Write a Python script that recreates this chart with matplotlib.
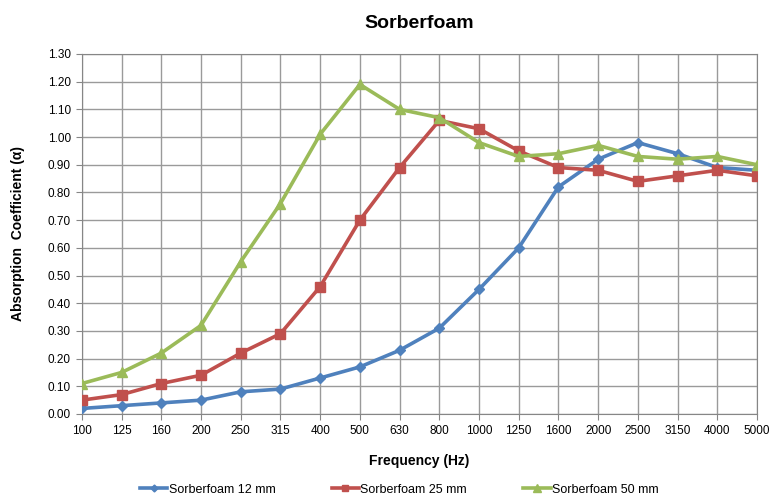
import matplotlib
matplotlib.use("Agg")
import matplotlib.pyplot as plt
import numpy as np

plt.rcParams["font.family"] = ["Liberation Sans", "DejaVu Sans"]

freqs = ["100", "125", "160", "200", "250", "315", "400", "500", "630", "800",
         "1000", "1250", "1600", "2000", "2500", "3150", "4000", "5000"]
foam_12 = [0.02, 0.03, 0.04, 0.05, 0.08, 0.09, 0.13, 0.17, 0.23, 0.31,
           0.45, 0.60, 0.82, 0.92, 0.98, 0.94, 0.89, 0.88]
foam_25 = [0.05, 0.07, 0.11, 0.14, 0.22, 0.29, 0.46, 0.70, 0.89, 1.06,
           1.03, 0.95, 0.89, 0.88, 0.84, 0.86, 0.88, 0.86]
foam_50 = [0.11, 0.15, 0.22, 0.32, 0.55, 0.76, 1.01, 1.19, 1.10, 1.07,
           0.98, 0.93, 0.94, 0.97, 0.93, 0.92, 0.93, 0.90]

series = [
    ("Sorberfoam 12 mm", foam_12, "#4F81BD", "D", 5),
    ("Sorberfoam 25 mm", foam_25, "#C0504D", "s", 7),
    ("Sorberfoam 50 mm", foam_50, "#9BBB59", "^", 7.5),
]

fig = plt.figure(figsize=(7.8, 4.98), dpi=100)
ax = fig.add_axes([0.105, 0.1687, 0.8655, 0.7229])

x = np.arange(len(freqs))
for label, vals, color, marker, ms in series:
    ax.plot(x, vals, color=color, lw=2.6, marker=marker, markersize=ms,
            label=label, zorder=3)

ax.set_xlim(0, len(freqs) - 1)
ax.set_ylim(0, 1.30)
ax.set_xticks(x)
ax.set_xticklabels(freqs)
ax.set_yticks(np.arange(0, 1.31, 0.10))
ax.set_yticklabels([f"{v:.2f}" for v in np.arange(0, 1.31, 0.10)])
ax.tick_params(labelsize=8.5, length=4, color="#868686", pad=4)
ax.grid(True, color="#9a9a9a", lw=1.0)
for s in ax.spines.values():
    s.set_color("#868686")

ax.set_title("Sorberfoam", fontsize=14, fontweight="bold", pad=19)
ax.set_xlabel("Frequency (Hz)", fontsize=10, fontweight="bold", labelpad=12)
ax.set_ylabel("Absorption  Coefficient (α)", fontsize=10, fontweight="bold",
              labelpad=16)

ax.legend(loc="center", bbox_to_anchor=(0.47, -0.21), ncol=3,
          frameon=False, fontsize=9, handlelength=2.2, columnspacing=4.5,
          handletextpad=0.1, markerscale=0.7)

fig.savefig("out.png", dpi=100)
